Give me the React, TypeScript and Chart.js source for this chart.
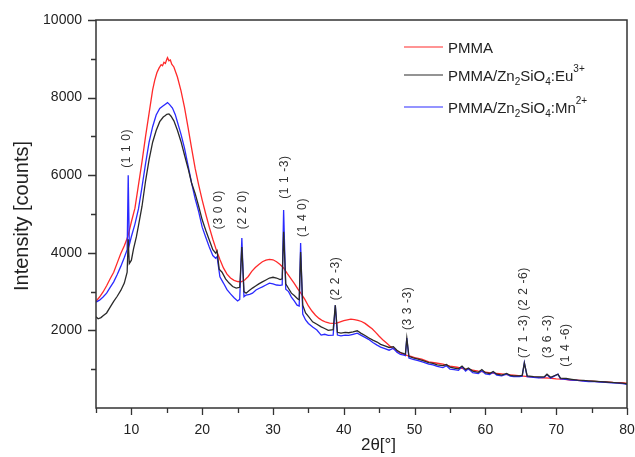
import React, { useEffect, useRef } from 'react';
import { Chart, registerables } from 'chart.js';

Chart.register(...registerables);

// [2θ (deg), intensity (counts)]
const PMMA: [number, number][] = [
  [5, 2750], [5.5, 2860], [6, 2990], [6.5, 3150], [7, 3330], [7.5, 3500], [8, 3740], [8.5, 3980], [9, 4180], [9.5, 4420],
  [10, 4800], [10.5, 5150], [11, 5750], [11.5, 6350], [12, 7000], [12.5, 7600], [13, 8200], [13.3, 8450], [13.6, 8640], [13.9, 8760],
  [14.2, 8850], [14.4, 8820], [14.6, 8910], [14.8, 8880], [15, 8990], [15.1, 9030], [15.3, 8950], [15.5, 8970], [15.7, 8860], [16, 8790],
  [16.5, 8530], [17, 8180], [17.5, 7750], [18, 7230], [18.5, 6700], [19, 6180], [19.5, 5750], [20, 5360], [20.5, 5000], [21, 4660],
  [21.5, 4350], [22, 4070], [22.5, 3830], [23, 3610], [23.5, 3450], [24, 3350], [24.5, 3290], [25, 3260], [25.5, 3250], [26, 3300],
  [26.5, 3390], [27, 3520], [27.5, 3620], [28, 3700], [28.5, 3770], [29, 3810], [29.5, 3830], [30, 3820], [30.5, 3770], [31, 3700],
  [31.5, 3610], [32, 3470], [32.5, 3340], [33, 3210], [33.5, 3070], [34, 2940], [34.5, 2800], [35, 2630], [35.5, 2500], [36, 2390],
  [36.5, 2310], [37, 2250], [37.5, 2210], [38, 2190], [38.5, 2180], [39, 2190], [39.5, 2220], [40, 2250], [40.5, 2270], [41, 2290],
  [41.5, 2280], [42, 2260], [42.5, 2230], [43, 2180], [43.5, 2110], [44, 2040], [44.5, 1950], [45, 1850], [45.5, 1760], [46, 1680],
  [46.5, 1600], [47, 1530], [47.5, 1470], [48, 1420], [48.5, 1380], [49, 1350], [49.5, 1330], [50, 1300], [51, 1260], [52, 1190],
  [53, 1160], [54, 1130], [55, 1080], [56, 1050], [57, 1010], [58, 985], [59, 950], [60, 925], [61, 900], [62, 885],
  [63, 860], [64, 845], [65, 830], [66, 810], [67, 795], [68, 780], [69, 770], [70, 750], [71, 745], [72, 720],
  [73, 715], [74, 700], [75, 695], [76, 680], [77, 675], [78, 660], [79, 655], [80, 640],
];

const EU: [number, number][] = [
  [5, 2350], [5.3, 2300], [5.7, 2330], [6, 2380], [6.5, 2450], [7, 2600], [7.5, 2750], [8, 2880], [8.5, 3030], [9, 3220],
  [9.4, 3500], [9.55, 4350], [9.7, 3720], [10, 3810], [10.3, 4100], [10.7, 4410], [11, 4700], [11.5, 5200], [12, 5850], [12.5, 6400],
  [13, 6850], [13.5, 7150], [14, 7380], [14.5, 7500], [14.8, 7540], [15, 7570], [15.3, 7580], [15.6, 7520], [16, 7400], [16.5, 7160],
  [17, 6870], [17.5, 6520], [18, 6180], [18.5, 5800], [19, 5530], [19.5, 5200], [20, 4850], [20.5, 4580], [21, 4330], [21.5, 4080],
  [21.9, 3990], [22.1, 4050], [22.4, 3580], [22.8, 3500], [23.3, 3330], [23.8, 3220], [24.3, 3130], [24.8, 3090], [25.3, 3110], [25.6, 4150],
  [25.9, 3000], [26.2, 2960], [26.6, 3020], [27.1, 3090], [27.6, 3150], [28, 3200], [28.5, 3250], [29, 3300], [29.5, 3350], [30, 3370],
  [30.5, 3350], [31, 3310], [31.3, 3330], [31.5, 4540], [31.8, 3200], [32.2, 3080], [32.6, 2960], [33, 2900], [33.5, 2810], [33.7, 2790],
  [33.9, 4020], [34.2, 2650], [34.6, 2450], [35, 2360], [35.6, 2220], [36.2, 2160], [36.8, 2090], [37.3, 2050], [37.8, 2000], [38.5, 2020],
  [38.8, 2650], [39.1, 1950], [39.6, 1930], [40.2, 1950], [40.7, 1940], [41.3, 1960], [41.9, 1990], [42.4, 1930], [43, 1870], [43.5, 1810],
  [44.1, 1750], [44.7, 1700], [45.2, 1640], [45.8, 1600], [46.4, 1560], [47, 1580], [47.5, 1490], [48, 1430], [48.5, 1400], [48.7, 1390],
  [48.9, 1800], [49.2, 1330], [49.8, 1290], [50.5, 1260], [51.2, 1220], [52, 1170], [52.6, 1150], [53.2, 1110], [54, 1090], [54.5, 1120],
  [55, 1050], [55.6, 1030], [56.2, 1010], [56.7, 1080], [57.2, 990], [57.6, 1030], [58.2, 950], [59, 920], [59.5, 990], [60, 910],
  [60.6, 890], [61.1, 940], [61.6, 870], [62.3, 850], [63, 890], [63.5, 840], [64, 830], [64.8, 830], [65.2, 840], [65.5, 1160],
  [65.9, 830], [66.8, 810], [67.5, 800], [68.3, 800], [68.7, 870], [69.2, 790], [70.25, 870], [70.6, 770], [71.4, 760], [72.2, 740],
  [73, 720], [73.8, 710], [74.6, 700], [75.4, 690], [76.2, 680], [77, 670], [77.8, 660], [78.6, 650], [79.4, 640], [80, 620],
];

const MN: [number, number][] = [
  [5, 2730], [5.5, 2780], [6, 2860], [6.5, 2960], [7, 3110], [7.5, 3250], [8, 3440], [8.5, 3650], [9, 3880], [9.4, 4080],
  [9.55, 6000], [9.7, 4200], [10, 4420], [10.5, 4740], [11, 5130], [11.5, 5700], [12, 6300], [12.5, 6850], [13, 7250], [13.5, 7550],
  [14, 7720], [14.5, 7790], [14.8, 7830], [15.1, 7870], [15.4, 7820], [15.8, 7730], [16.2, 7560], [16.5, 7370], [17, 7060], [17.5, 6700],
  [18, 6250], [18.5, 5800], [19, 5400], [19.5, 5060], [20, 4660], [20.5, 4400], [21, 4150], [21.5, 3930], [21.9, 3860], [22.1, 3900],
  [22.5, 3380], [23, 3220], [23.5, 3050], [24, 2940], [24.5, 2840], [25, 2760], [25.3, 2800], [25.6, 4380], [25.9, 2870], [26.2, 2910],
  [26.7, 2930], [27.1, 2960], [27.6, 3040], [28, 3080], [28.5, 3120], [29, 3170], [29.5, 3220], [30, 3200], [30.5, 3170], [31, 3160],
  [31.3, 3170], [31.5, 5100], [31.8, 3060], [32.2, 3000], [32.6, 2860], [33, 2760], [33.4, 2650], [33.7, 2630], [33.9, 4250], [34.2, 2420],
  [34.6, 2270], [35, 2180], [35.6, 2090], [36.2, 2010], [36.8, 1880], [37.3, 1900], [37.8, 1870], [38.5, 1880], [38.8, 2650], [39.1, 1880],
  [39.6, 1860], [40.2, 1880], [40.7, 1870], [41.3, 1900], [41.9, 1930], [42.4, 1880], [43, 1820], [43.5, 1770], [44.1, 1690], [44.7, 1620],
  [45.2, 1570], [45.8, 1530], [46.4, 1490], [47, 1540], [47.5, 1440], [48, 1380], [48.5, 1360], [48.7, 1350], [48.9, 1800], [49.2, 1290],
  [49.8, 1250], [50.5, 1220], [51.2, 1180], [52, 1130], [52.6, 1110], [53.2, 1070], [54, 1040], [54.5, 1090], [55, 1000], [55.6, 990],
  [56.2, 970], [56.7, 1060], [57.2, 950], [57.6, 1010], [58.2, 910], [59, 890], [59.5, 960], [60, 880], [60.6, 860], [61.1, 920],
  [61.6, 850], [62.3, 830], [63, 870], [63.5, 820], [64, 810], [64.8, 810], [65.2, 820], [65.5, 1170], [65.9, 810], [66.8, 790],
  [67.5, 780], [68.3, 790], [68.7, 860], [69.2, 770], [70.25, 870], [70.6, 750], [71.4, 740], [72.2, 720], [73, 710], [73.8, 690],
  [74.6, 680], [75.4, 680], [76.2, 670], [77, 660], [77.8, 650], [78.6, 640], [79.4, 630], [80, 610],
];

const X_TICKS = [10, 20, 30, 40, 50, 60, 70, 80];
const X_MINOR = [5, 15, 25, 35, 45, 55, 65, 75];
const Y_TICKS = [2000, 4000, 6000, 8000, 10000];
const Y_MINOR = [1000, 3000, 5000, 7000, 9000];

const COLORS = { pmma: '#ff2a2a', eu: '#2a2a2a', mn: '#2a2aff' };

// legend entries: text segments [text, kind] where kind n = normal, b = subscript, p = superscript
const LEGEND: { color: string; parts: [string, string][] }[] = [
  { color: COLORS.pmma, parts: [['PMMA', 'n']] },
  { color: COLORS.eu, parts: [['PMMA/Zn', 'n'], ['2', 'b'], ['SiO', 'n'], ['4', 'b'], [':Eu', 'n'], ['3+', 'p']] },
  { color: COLORS.mn, parts: [['PMMA/Zn', 'n'], ['2', 'b'], ['SiO', 'n'], ['4', 'b'], [':Mn', 'n'], ['2+', 'p']] },
];

// Miller-index labels: text, 2θ position, intensity at bottom of the text
const PEAK_LABELS: { text: string; x: number; y: number }[] = [
  { text: '(1 1 0)', x: 9.38, y: 6190 },
  { text: '(3 0 0)', x: 22.37, y: 4610 },
  { text: '(2 2 0)', x: 25.76, y: 4610 },
  { text: '(1 1 -3)', x: 31.7, y: 5390 },
  { text: '(1 4 0)', x: 34.24, y: 4410 },
  { text: '(2 2 -3)', x: 38.9, y: 2780 },
  { text: '(3 3 -3)', x: 49.07, y: 2010 },
  { text: '(7 1 -3) (2 2 -6)', x: 65.45, y: 1290 },
  { text: '(3 6 -3)', x: 68.8, y: 1290 },
  { text: '(1 4 -6)', x: 71.3, y: 1060 },
];

const FONT = "'Liberation Sans', Arial, Helvetica, sans-serif";

const decorPlugin = {
  id: 'decor',
  afterDraw(chart: any) {
    const ctx: CanvasRenderingContext2D = chart.ctx;
    const { left, right, top, bottom } = chart.chartArea;
    const xs = chart.scales.x;
    const ys = chart.scales.y;
    ctx.save();
    // frame
    ctx.strokeStyle = '#333';
    ctx.lineWidth = 1.5;
    ctx.strokeRect(left, top, right - left, bottom - top);
    // ticks
    ctx.lineWidth = 1.3;
    ctx.beginPath();
    Y_TICKS.forEach((v) => {
      const p = Math.round(ys.getPixelForValue(v)) + 0.5;
      ctx.moveTo(left - 8, p);
      ctx.lineTo(left, p);
    });
    Y_MINOR.forEach((v) => {
      const p = Math.round(ys.getPixelForValue(v)) + 0.5;
      ctx.moveTo(left - 5, p);
      ctx.lineTo(left, p);
    });
    X_TICKS.forEach((v) => {
      const p = Math.round(xs.getPixelForValue(v)) + 0.5;
      ctx.moveTo(p, bottom);
      ctx.lineTo(p, bottom + 7);
    });
    X_MINOR.forEach((v) => {
      const p = Math.round(xs.getPixelForValue(v)) + 0.5;
      ctx.moveTo(p, bottom);
      ctx.lineTo(p, bottom + 5);
    });
    ctx.stroke();

    // axis titles
    ctx.fillStyle = '#222';
    ctx.font = `17px ${FONT}`;
    ctx.textAlign = 'center';
    ctx.textBaseline = 'middle';
    ctx.fillText('2θ[°]', (left + right) / 2 + 17, bottom + 37);
    ctx.save();
    ctx.translate(left - 74, (top + bottom) / 2 + 2);
    ctx.rotate(-Math.PI / 2);
    ctx.font = `20px ${FONT}`;
    ctx.fillText('Intensity [counts]', 0, 0);
    ctx.restore();

    // legend
    const lx = right - 223;
    LEGEND.forEach((entry, i) => {
      const ly = top + 27 + i * 28 + (i === 2 ? 4 : 0);
      ctx.strokeStyle = entry.color;
      ctx.lineWidth = 1.2;
      ctx.beginPath();
      ctx.moveTo(lx, ly);
      ctx.lineTo(lx + 39, ly);
      ctx.stroke();
      let tx = lx + 44;
      ctx.fillStyle = '#222';
      ctx.textAlign = 'left';
      ctx.textBaseline = 'alphabetic';
      entry.parts.forEach(([t, kind]) => {
        let dy = 0;
        if (kind === 'n') ctx.font = `15px ${FONT}`;
        else {
          ctx.font = `10px ${FONT}`;
          dy = kind === 'b' ? 4 : -9;
        }
        ctx.fillText(t, tx, ly + 5.5 + dy);
        tx += ctx.measureText(t).width;
      });
    });

    // Miller-index labels
    ctx.fillStyle = '#333';
    ctx.font = `12px ${FONT}`;
    (ctx as any).letterSpacing = '0.6px';
    ctx.textAlign = 'left';
    ctx.textBaseline = 'middle';
    PEAK_LABELS.forEach((l) => {
      ctx.save();
      ctx.translate(xs.getPixelForValue(l.x), ys.getPixelForValue(l.y));
      ctx.rotate(-Math.PI / 2);
      ctx.fillText(l.text, 0, 0);
      ctx.restore();
    });
    ctx.restore();
  },
};

export default function App() {
  const ref = useRef<HTMLCanvasElement | null>(null);
  useEffect(() => {
    document.body.style.margin = '0';
    const canvas = ref.current;
    if (!canvas) return;
    const toPts = (arr: [number, number][]) => arr.map(([x, y]) => ({ x, y }));
    const chart = new Chart(canvas, {
      type: 'line',
      data: {
        datasets: [
          { label: 'PMMA', data: toPts(PMMA), borderColor: COLORS.pmma, borderWidth: 1.3, pointRadius: 0, order: 3 },
          { label: 'PMMA/Zn2SiO4:Mn2+', data: toPts(MN), borderColor: COLORS.mn, borderWidth: 1.3, pointRadius: 0, order: 2 },
          { label: 'PMMA/Zn2SiO4:Eu3+', data: toPts(EU), borderColor: COLORS.eu, borderWidth: 1.3, pointRadius: 0, order: 1 },
        ],
      },
      options: {
        animation: false,
        responsive: false,
        maintainAspectRatio: false,
        layout: { padding: { left: 0, right: 8, top: 20, bottom: 0 } },
        plugins: { legend: { display: false }, tooltip: { enabled: false } },
        scales: {
          x: {
            type: 'linear',
            min: 5,
            max: 80,
            grid: { display: false, drawTicks: false },
            border: { display: false },
            ticks: {
              font: { family: FONT, size: 14 },
              color: '#222',
              padding: 14,
              maxRotation: 0,
              callback: (v: any) => String(v),
            },
            afterBuildTicks: (s: any) => {
              s.ticks = X_TICKS.map((v) => ({ value: v }));
            },
            afterFit: (s: any) => {
              s.height = 49;
              s.paddingLeft = 0;
              s.paddingRight = 0;
            },
          },
          y: {
            type: 'linear',
            min: 0,
            max: 10000,
            grid: { display: false, drawTicks: false },
            border: { display: false },
            ticks: {
              font: { family: FONT, size: 14 },
              color: '#222',
              padding: 14,
              callback: (v: any) => String(v),
            },
            afterBuildTicks: (s: any) => {
              s.ticks = Y_TICKS.map((v) => ({ value: v }));
            },
            afterFit: (s: any) => {
              s.width = 96;
              s.paddingTop = 0;
              s.paddingBottom = 0;
            },
          },
        },
      } as any,
      plugins: [decorPlugin],
    });
    return () => chart.destroy();
  }, []);
  return <canvas ref={ref} width={635} height={457} style={{ display: 'block' }} />;
}
